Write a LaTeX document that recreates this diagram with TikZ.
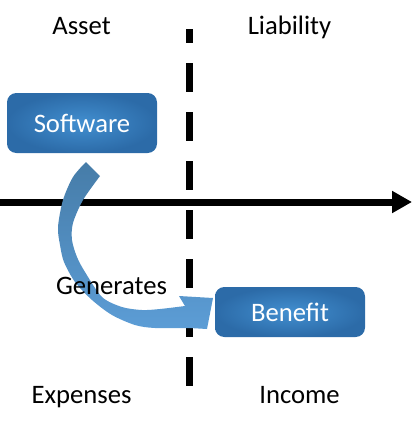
\documentclass[tikz,border=0pt]{standalone}
\usepackage{fontspec}
\setmainfont{Carlito}
\usetikzlibrary{arrows.meta}

\definecolor{boxin}{RGB}{66,143,208}
\definecolor{boxout}{RGB}{44,107,168}
\definecolor{bendtop}{RGB}{70,124,168}
\definecolor{bendbot}{RGB}{92,157,214}

\tikzset{
  quadrant/.style={font=\fontsize{20}{24}\selectfont, anchor=base, inner sep=0pt},
  block/.style={rounded corners=7pt, inner color=boxin, outer color=boxout, text=white,
    font=\fontsize{20}{24}\selectfont, minimum width=112.5pt}
}

\begin{document}
\begin{tikzpicture}[x=0.75pt,y=-0.75pt]
\useasboundingbox (0,0) rectangle (415,426);

\coordinate (axisL) at (0,202);
\coordinate (axisR) at (412,202);
\coordinate (divT) at (189,29);
\coordinate (divB) at (189,386);

\draw[line width=5.25pt, dash pattern=on 21.75pt off 15pt, dash phase=11.25pt] (divT) -- (divB);
\draw[line width=5.25pt, -{Triangle[length=15pt,width=15.75pt]}] (axisL) -- (axisR);

\node[quadrant] (asset) at (81.5,34) {Asset};
\node[quadrant] (liability) at (289.5,34) {Liability};
\node[quadrant] (expenses) at (81.5,403) {Expenses};
\node[quadrant] (income) at (299.5,403) {Income};

\node[block, minimum height=45pt] (software) at (82,123) {Software};
\node[block, minimum height=37.5pt] (benefit) at (290,312) {Benefit};

% bent arrow
\shade[top color=bendtop, bottom color=bendbot]
  plot[smooth] coordinates {(86,162) (73,177) (63,200) (58,227) (60,245) (64,262) (75,282) (92,300) (112,315) (135,325) (155,328) (190,328)}
  -- (207,329) -- (213,298) -- (179,296) -- (185,306)
  -- plot[smooth] coordinates {(185,306) (160,309) (142,310) (122,307) (102,297) (85,272) (77,257) (72,240) (73,223) (83,200) (100,176)}
  -- cycle;

\node[quadrant] (generates) at (111.5,294) {Generates};

\end{tikzpicture}
\end{document}
